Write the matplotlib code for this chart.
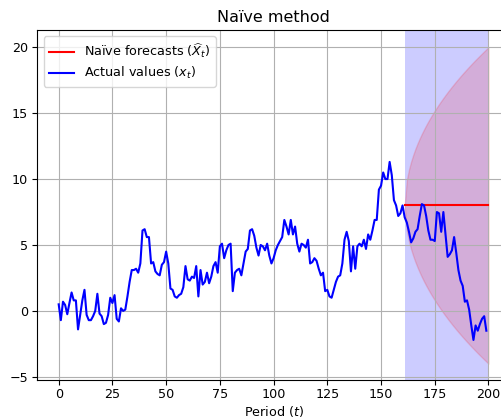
import numpy as np
import matplotlib
matplotlib.use("Agg")
import matplotlib.pyplot as plt

plt.rcParams["font.size"] = 9.2
plt.rcParams["xtick.major.pad"] = 2.5
plt.rcParams["ytick.major.pad"] = 3.0

# actual values x_t, t = 0..199
actual = [
    0.5, -0.7, 0.7, 0.45, -0.25, 0.6, 1.4, 0.8, 0.8, -1.4,
    -0.3, 0.8, 1.6, -0.3, -0.7, -0.7, -0.4, 0.0, 1.3, -0.2,
    -0.4, -1.0, -0.9, -0.3, 1.0, 0.6, 1.2, -0.6, -0.8, 0.2,
    0.0, 0.1, 1.1, 2.2, 3.1, 3.1, 3.2, 2.9, 3.6, 6.1,
    6.2, 5.6, 5.6, 3.6, 3.7, 3.0, 2.8, 2.7, 3.5, 3.7,
    4.5, 3.6, 1.7, 1.6, 1.1, 1.0, 1.2, 1.3, 1.8, 3.4,
    2.4, 2.3, 2.6, 2.5, 3.4, 1.1, 3.1, 2.0, 2.2, 2.9,
    2.1, 2.6, 3.4, 3.7, 2.9, 4.9, 5.1, 4.0, 4.6, 5.0,
    5.1, 1.5, 2.9, 3.1, 3.2, 2.7, 3.6, 4.5, 4.7, 6.1,
    6.2, 5.7, 4.8, 4.2, 5.0, 4.9, 4.6, 5.1, 4.2, 3.6,
    4.0, 4.6, 5.0, 5.3, 5.6, 6.9, 6.4, 5.8, 6.9, 5.8,
    6.4, 5.1, 4.5, 5.1, 5.0, 4.8, 5.4, 3.6, 3.7, 4.0,
    3.8, 3.2, 2.7, 2.9, 1.5, 1.6, 1.1, 1.0, 1.6, 2.2,
    2.6, 2.7, 3.6, 5.4, 6.0, 5.3, 3.0, 4.9, 3.2, 4.9,
    5.1, 4.9, 5.4, 4.7, 5.8, 5.4, 6.1, 6.9, 6.9, 9.2,
    9.5, 10.5, 10.0, 10.0, 11.3, 10.3, 8.4, 8.0, 7.2, 7.4,
    8.0, 7.1, 6.7, 6.0, 5.2, 5.5, 6.0, 6.2, 7.2, 8.1,
    8.0, 7.2, 6.1, 5.4, 5.4, 5.3, 7.5, 7.4, 6.0, 7.5,
    5.8, 4.1, 4.3, 4.6, 5.6, 4.4, 3.1, 2.3, 1.9, 0.7,
    0.8, 0.1, -1.1, -2.2, -1.1, -1.5, -1.0, -0.6, -0.4, -1.5,
]
periods = np.arange(len(actual))

# naive forecast from the last training value
forecast_start = 161
forecast_end = 200
forecast_value = 8.0
sigma = 0.98

f_periods = np.arange(forecast_start, forecast_end + 1)
h = f_periods - forecast_start
forecast = np.full(len(f_periods), forecast_value)
half_width = 1.96 * sigma * np.sqrt(h)

fig = plt.figure(figsize=(5.02, 4.18), dpi=100)
ax = fig.add_axes([0.0741, 0.0921, 0.9418, 0.836])

ax.axvspan(forecast_start, forecast_end, color="blue", alpha=0.2, lw=0)
ax.fill_between(f_periods, forecast - half_width, forecast + half_width,
                color="red", alpha=0.15)
ax.plot(f_periods, forecast, color="red", lw=1.5,
        label=r"Naïve forecasts ($\widehat{X}_t$)")
ax.plot(periods, actual, color="blue", lw=1.5, label=r"Actual values ($x_t$)")

ax.set_xlim(-10, 210)
ax.set_ylim(-5.2, 21.3)
ax.set_xticks(range(0, 201, 25))
ax.set_yticks(range(-5, 21, 5))
ax.grid(True)
ax.set_title("Naïve method", fontsize=11.5)
ax.set_xlabel("Period ($t$)", labelpad=2)
ax.legend(loc="upper left", labelspacing=0.4)

fig.savefig("out.png", dpi=100)
